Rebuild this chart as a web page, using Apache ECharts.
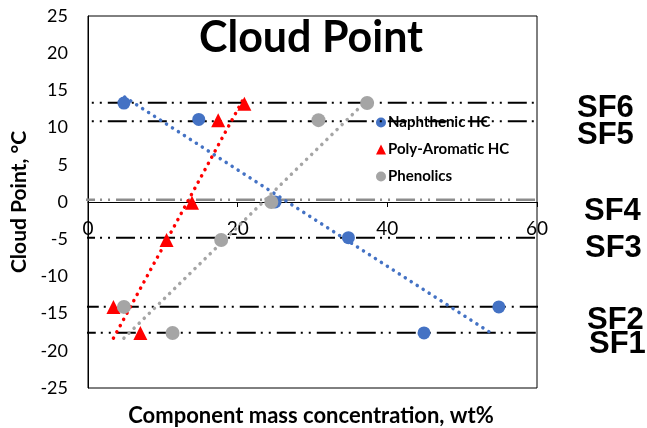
<!DOCTYPE html>
<html>
<head>
<meta charset="utf-8">
<script src="https://cdn.jsdelivr.net/npm/echarts@6/dist/echarts.min.js"></script>
<style>html,body{margin:0;padding:0;background:#fff}#c{width:647px;height:428px}</style>
</head>
<body>
<div id="c"></div>
<script>
// ---- data ----
const naphthenic = [[4.8, 13.3], [14.8, 11.1], [25.0, 0.0], [34.8, -4.8], [44.9, -17.6], [54.9, -14.1]];
const polyAromatic = [[3.4, -14.1], [7.0, -17.6], [10.5, -5.1], [13.9, -0.1], [17.4, 11.0], [20.9, 13.2]];
const phenolics = [[4.8, -14.1], [11.3, -17.6], [17.8, -5.1], [24.5, 0.0], [30.8, 11.0], [37.3, 13.3]];
const trendNaph = [[4.9, 14.1], [54.3, -17.9]];
const trendPoly = [[3.4, -18.3], [20.9, 14.1]];
const trendPhen = [[4.8, -18.3], [37.3, 13.7]];
const sfNames = ['SF6', 'SF5', 'SF4', 'SF3', 'SF2', 'SF1'];
const sfValues = [13.35, 10.85, 0.3, -4.8, -14.07, -17.57];
const sfStart = [-2.7, -2.7, -1.6, -1.6, -1.1, -1.5];
const sfEnd = [62.4, 62.4, 63.8, 63.8, 64.3, 63.6];
const xTicks = [0, 20, 40, 60];
const yRange = [-25, 25];

const chart = echarts.init(document.getElementById('c'));
const FONT = 'Lato';
const GRID_TOP = 16, GRID_BOTTOM = 40, H = 428;
const plotH = H - GRID_TOP - GRID_BOTTOM;
// distance from grid bottom to y = 0 (x axis crosses there)
const zeroOffset = plotH * (0 - yRange[0]) / (yRange[1] - yRange[0]);
const sfSeries = sfNames.map((n, i) => ({
  name: n, type: 'line', clip: false, symbol: 'none', silent: true, z: 3,
  data: [[sfStart[i], sfValues[i]], [sfEnd[i], sfValues[i]]],
  lineStyle: { color: n === 'SF4' ? '#8c8c8c' : '#000', width: n === 'SF4' ? 2.5 : 2, type: [19, 5, 2, 6, 2, 6] }
}));
const sfLabelPos = { SF6: [577, 108], SF5: [577, 135], SF4: [584, 211], SF3: [585, 248], SF2: [587, 320], SF1: [589, 344] };
const trend = (d, c) => ({
  type: 'line', data: d, symbol: 'none', silent: true, z: 4,
  lineStyle: { color: c, width: 3.5, type: [0.1, 7], cap: 'round' }
});
chart.setOption({
  animation: false,
  backgroundColor: '#fff',
  textStyle: { fontFamily: FONT },
  grid: { left: 88, right: 110, top: GRID_TOP, bottom: GRID_BOTTOM, show: true, borderColor: '#000', borderWidth: 1 },
  title: { text: 'Cloud Point', left: 194, top: 12,
    textStyle: { fontFamily: FONT, fontWeight: 'bold', fontSize: 43, color: '#000' } },
  legend: {
    data: ['Naphthenic HC', 'Poly-Aromatic HC', 'Phenolics'],
    left: 371, top: 110, orient: 'vertical', itemGap: 12, itemWidth: 10, itemHeight: 10, z: 1,
    textStyle: { fontFamily: FONT, fontWeight: 'bold', fontSize: 15, color: '#000', padding: [0, 0, 0, -3] }
  },
  xAxis: {
    type: 'value', min: xTicks[0], max: xTicks[xTicks.length - 1], interval: 20,
    position: 'bottom', offset: -zeroOffset,
    axisLine: { onZero: false, lineStyle: { color: '#000', width: 1 } },
    axisTick: { show: true, length: 5, lineStyle: { color: '#000' } },
    axisLabel: { fontFamily: FONT, fontSize: 19, color: '#000', margin: 17 },
    splitLine: { show: false }
  },
  yAxis: {
    type: 'value', min: yRange[0], max: yRange[1], interval: 5,
    axisLine: { show: true, onZero: false, lineStyle: { color: '#000', width: 1 } },
    axisTick: { show: false },
    axisLabel: { fontFamily: FONT, fontSize: 18, color: '#000', margin: 20 },
    splitLine: { show: false },
    name: 'Cloud Point, °C', nameLocation: 'middle', nameGap: 57, nameRotate: 90,
    nameTextStyle: { fontFamily: FONT, fontWeight: 'bold', fontSize: 21, color: '#000' }
  },
  graphic: [
    { type: 'text', x: 311, y: 416, style: { text: 'Component mass concentration, wt%', fill: '#000',
      font: 'bold 22px Lato', align: 'center', verticalAlign: 'middle' } }
  ].concat(sfNames.map(n => ({ type: 'text', x: sfLabelPos[n][0], y: sfLabelPos[n][1], z: 10,
      style: { text: n, fill: '#000', font: 'bold 31px "Liberation Sans"', verticalAlign: 'middle' } }))),
  series: [
    ...sfSeries,
    trend(trendNaph, '#4472C4'),
    trend(trendPoly, '#FF0000'),
    trend(trendPhen, '#A5A5A5'),
    { name: 'Naphthenic HC', type: 'scatter', data: naphthenic, symbol: 'circle', symbolSize: 13, z: 5,
      itemStyle: { color: '#4472C4', opacity: 1 } },
    { name: 'Poly-Aromatic HC', type: 'scatter', data: polyAromatic, symbol: 'triangle', symbolSize: 14, z: 5,
      itemStyle: { color: '#FF0000', opacity: 1 } },
    { name: 'Phenolics', type: 'scatter', data: phenolics, symbol: 'circle', symbolSize: 14, z: 5,
      itemStyle: { color: '#A5A5A5', opacity: 1 } }
  ]
});
</script>
</body>
</html>
